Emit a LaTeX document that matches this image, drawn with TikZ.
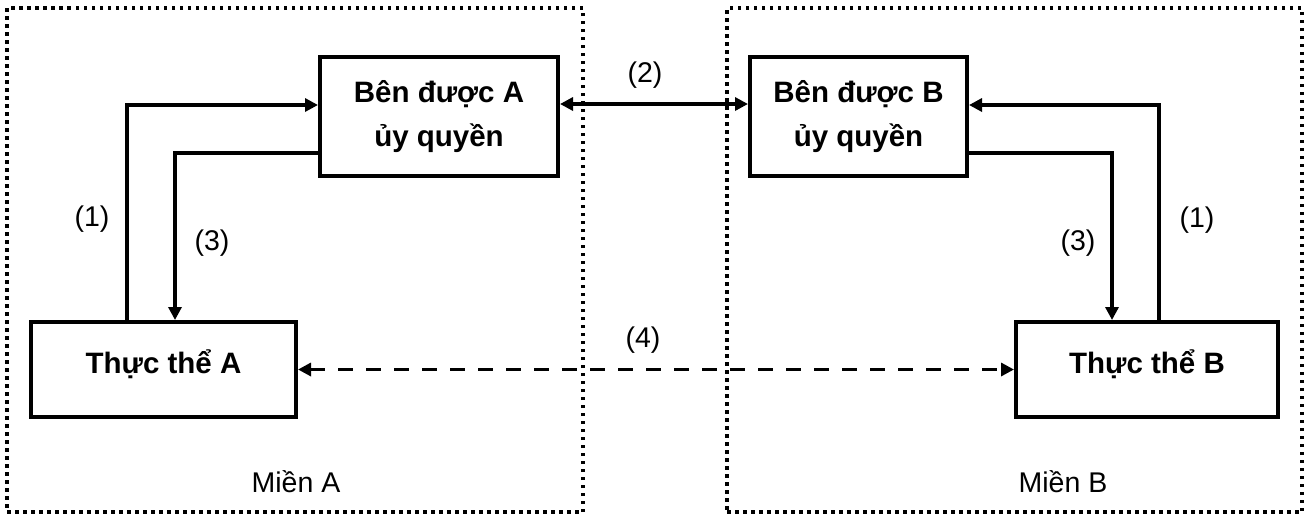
\documentclass[tikz,border=0pt]{standalone}
\usepackage{fontspec}
\setmainfont{Liberation Sans}
\usetikzlibrary{arrows.meta}

\tikzset{
    party/.style={draw, line width=4pt, align=center, inner sep=0pt,
        font=\fontsize{29.5}{44}\selectfont\bfseries},
    realm/.style={draw, line width=3.5pt, dash pattern=on 3.5pt off 4.5pt, inner sep=0pt},
    tag/.style={inner sep=0pt, font=\fontsize{28.5}{34}\selectfont},
    link/.style={line width=3.2pt, -{Triangle[length=13pt,width=13pt]}},
    twoway/.style={line width=3.2pt, {Triangle[length=13pt,width=13pt]}-{Triangle[length=13pt,width=13pt]}},
}

\begin{document}
\begin{tikzpicture}[x=1pt,y=-1pt]
    \useasboundingbox (0,0) rectangle (1306,515);

    % the two realms
    \node[realm, minimum width=576pt, minimum height=504pt] (realmA) at (295,260) {};
    \node[realm, minimum width=575pt, minimum height=504pt] (realmB) at (1014.5,260) {};
    \node[tag] (nameA) at (296,482) {Miền A};
    \node[tag] (nameB) at (1063,482) {Miền B};

    % delegates and entities
    \node[party, minimum width=238pt, minimum height=119pt] (proxyA) at (439,116.5) {Bên được A\\ủy quyền};
    \node[party, minimum width=217pt, minimum height=119pt] (proxyB) at (858.5,116.5) {Bên được B\\ủy quyền};
    \node[party, minimum width=265pt, minimum height=95pt, text height=21pt, text depth=14pt] (entA) at (163.5,369.5) {Thực thể A};
    \node[party, minimum width=262pt, minimum height=95pt, text height=21pt, text depth=14pt] (entB) at (1147,369.5) {Thực thể B};

    % bend points of the elbow links
    \coordinate (upA) at (127,105);
    \coordinate (downA) at (175,153);
    \coordinate (upB) at (1159,105);
    \coordinate (downB) at (1112,153);
    \coordinate (midrow) at (650,104);

    \draw[link] (entA.north -| upA) |- (proxyA.west |- upA);
    \draw[link] (proxyA.west |- downA) -| (entA.north -| downA);
    \draw[link] (entB.north -| upB) |- (proxyB.east |- upB);
    \draw[link] (proxyB.east |- downB) -| (entB.north -| downB);
    \draw[twoway] (proxyA.east |- midrow) -- (proxyB.west |- midrow);
    \draw[twoway, dash pattern=on 15pt off 13pt] (entA.east) -- (entB.west);

    % step numbers
    \node[tag] (stepA1) at (92,219) {(1)};
    \node[tag] (stepA3) at (212,243) {(3)};
    \node[tag] (step2) at (645,75) {(2)};
    \node[tag] (step4) at (643,340) {(4)};
    \node[tag] (stepB3) at (1078,243) {(3)};
    \node[tag] (stepB1) at (1197,220) {(1)};
\end{tikzpicture}
\end{document}
